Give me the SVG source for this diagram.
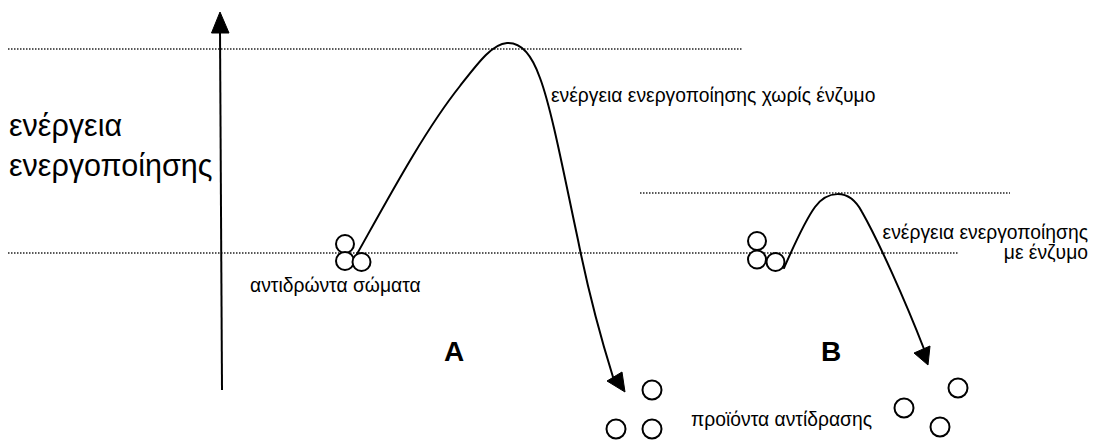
<svg xmlns="http://www.w3.org/2000/svg" width="1096" height="442" viewBox="0 0 1096 442">
<style>
.dot{stroke:#222;stroke-width:1.4;stroke-dasharray:1.5 1.5;fill:none}
.curve{stroke:#000;stroke-width:2;fill:none;stroke-linecap:round}
.head{fill:#000;stroke:#000;stroke-width:1;stroke-linejoin:round}
.mol{fill:#fff;stroke:#000;stroke-width:2}
.t{font-family:"Liberation Sans",Arial,sans-serif;fill:#000;font-size:19.3px}
.big{font-family:"Liberation Sans",Arial,sans-serif;fill:#000;font-size:30.5px}
.ab{font-family:"Liberation Sans",Arial,sans-serif;fill:#000;font-size:28px;font-weight:bold}
</style>
<rect width="1096" height="442" fill="#fff"/>
<g id="levels">
<line class="dot" x1="8" y1="49" x2="743" y2="49"/>
<line class="dot" x1="640" y1="193" x2="1010" y2="193"/>
<line class="dot" x1="8" y1="253" x2="958" y2="253"/>
</g>
<g id="axis">
<line x1="220" y1="30" x2="222" y2="390" stroke="#000" stroke-width="2"/>
<polygon class="head" points="220,12 211.5,33 229,33"/>
<text class="big" x="9" y="136">ενέργεια</text>
<text class="big" x="9" y="176">ενεργοποίησης</text>
</g>
<g id="connectors">
<path class="curve" d="M357,254 C390,195 425,130 460,86 C478,63 492,44 507,43 C522,42 533,58 540,78 C552,110 565,180 578,240 C590,300 603,345 613,377"/>
<polygon class="head" points="607,381 622,372 625,392"/>
<path class="curve" d="M784,268 C792,250 804,222 815,207 C826,192 848,186 862,212 C878,240 905,300 924,349"/>
<polygon class="head" points="914,353 930,346 928,365"/>
</g>
<g id="reactants-A">
<circle class="mol" cx="345" cy="244" r="9"/>
<circle class="mol" cx="345" cy="261" r="9"/>
<circle class="mol" cx="361.5" cy="262" r="9"/>
<text class="t" x="250" y="292">αντιδρώντα σώματα</text>
</g>
<g id="products-A">
<circle class="mol" cx="652" cy="390" r="9.5"/>
<circle class="mol" cx="616" cy="429" r="9.5"/>
<circle class="mol" cx="652" cy="429" r="9.5"/>
</g>
<g id="reactants-B">
<circle class="mol" cx="757" cy="241" r="9"/>
<circle class="mol" cx="757" cy="259.5" r="9"/>
<circle class="mol" cx="775.5" cy="262" r="9"/>
</g>
<g id="products-B">
<circle class="mol" cx="958" cy="388" r="9.5"/>
<circle class="mol" cx="904" cy="408" r="9.5"/>
<circle class="mol" cx="940" cy="427" r="9.5"/>
<text class="t" x="691" y="426">προϊόντα αντίδρασης</text>
</g>
<g id="label-no-enzyme">
<text class="t" x="551" y="102">ενέργεια ενεργοποίησης χωρίς ένζυμο</text>
</g>
<g id="label-enzyme">
<text class="t" x="1088" y="239" text-anchor="end">ενέργεια ενεργοποίησης</text>
<text class="t" x="1088" y="259" text-anchor="end">με ένζυμο</text>
</g>
<g id="label-A"><text class="ab" x="444" y="361">A</text></g>
<g id="label-B"><text class="ab" x="821" y="361">B</text></g>
</svg>
